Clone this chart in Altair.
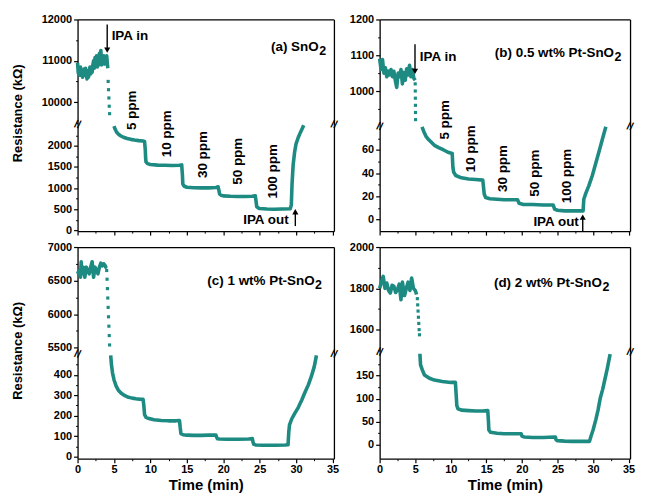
import altair as alt
import pandas as pd

TEAL = "#1e8b83"
FONT = "Liberation Sans"
X_DOMAIN = [0, 35.2]
X_MAJOR = [0, 5, 10, 15, 20, 25, 30, 35]
X_MINOR = [2.5, 7.5, 12.5, 17.5, 22.5, 27.5, 32.5]

# ---------------- (a) SnO2 ----------------
a_base_t = [0.0, 0.1, 0.2, 0.3, 0.4, 0.5, 0.6, 0.7, 0.8, 0.9, 1.0, 1.1, 1.2, 1.3, 1.4,
            1.5, 1.6, 1.7, 1.8, 1.9, 2.0, 2.1, 2.2, 2.3, 2.4, 2.5, 2.6, 2.7, 2.8, 2.9,
            3.0, 3.1, 3.2, 3.3, 3.4, 3.5, 3.6, 3.7, 3.8, 3.9, 4.0, 4.1, 4.15]
a_base_v = [10950, 10700, 10800, 10650, 10850, 10700, 10780, 10600, 10720, 10800,
            10650, 10820, 10700, 10560, 10760, 10600, 10720, 10850, 10680, 10820,
            10720, 10900, 11000, 10820, 11080, 10900, 11120, 10850, 11020, 10900,
            11180, 10950, 11250, 10900, 11060, 10950, 11120, 10920, 11000, 10960,
            11120, 10920, 10820]
a_drop_t = [4.2, 4.25, 4.3, 4.35, 4.4]
a_drop_v = [10500, 10300, 10100, 9900, 9720]
a_resp_t = [5.0, 5.15, 5.35, 5.6, 5.9, 6.3, 6.8, 7.3, 7.8, 8.4, 9.0, 9.2,
            9.3, 9.35, 9.4, 9.6, 10.0, 11.0, 12.0, 13.0, 14.0, 14.3, 14.4, 14.45,
            14.6, 15.0, 16.0, 17.0, 18.0, 19.0, 19.3, 19.4, 19.5, 19.7, 20.0, 21.0,
            22.0, 23.0, 24.0, 24.4, 24.5, 24.6, 24.8, 25.0, 26.0, 27.0, 28.0, 29.2,
            29.35, 29.45, 29.6, 29.8, 30.0, 30.3, 30.6, 30.9, 31.05]
a_resp_v = [2470, 2400, 2330, 2280, 2240, 2205, 2175, 2155, 2140, 2125, 2115, 2105,
            1900, 1700, 1620, 1580, 1560, 1545, 1540, 1535, 1540, 1550, 1300, 1100,
            1050, 1020, 1010, 1005, 1005, 1015, 1030, 950, 860, 830, 815, 805,
            800, 800, 805, 820, 700, 560, 530, 515, 505, 500, 505, 510,
            600, 1100, 1550, 1850, 2050, 2200, 2320, 2430, 2490]

# ---------------- (b) 0.5 wt% Pt-SnO2 ----------------
b_base_t = [0.0, 0.2, 0.4, 0.6, 0.8, 1.0, 1.2, 1.4, 1.6, 1.8, 2.0, 2.2, 2.4, 2.6,
            2.8, 3.0, 3.2, 3.4, 3.6, 3.8, 4.0, 4.2, 4.4, 4.6, 4.8, 5.0]
b_base_v = [1090, 1060, 1088, 1050, 1065, 1040, 1056, 1045, 1060, 1040, 1055, 1030,
            1010, 1050, 1040, 1060, 1020, 1052, 1030, 1062, 1045, 1072, 1040, 1060,
            1036, 1030]
b_drop_t = [5.0, 5.01, 5.02, 5.03, 5.04, 5.05]
b_drop_v = [1020, 1000, 980, 960, 940, 920]
b_resp_t = [5.96, 6.2, 6.5, 6.8, 7.2, 7.7, 8.3, 9.0, 9.6, 10.2, 10.3, 10.4, 10.7,
            11.5, 12.5, 13.5, 14.5, 14.7, 14.9, 15.5, 16.5, 17.5, 18.5, 19.4, 19.6,
            20.2, 21.5, 23.0, 24.4, 24.6, 25.0, 26.0, 27.0, 28.0, 28.6, 28.7, 29.0,
            29.4, 29.9, 30.4, 30.9, 31.3, 31.8]
b_resp_v = [80, 76, 72, 69.5, 67, 64, 62, 60, 58, 57, 45, 41, 38, 36, 35, 34.5, 34,
            22, 19, 18, 17.5, 17, 17, 17, 14, 13, 13, 12.5, 12.5, 9, 8, 7.5, 7.5, 7.5,
            7.5, 17.5, 23, 29, 38, 49, 60, 69, 80]

# ---------------- (c) 1 wt% Pt-SnO2 ----------------
c_base_t = [0.0, 0.2, 0.4, 0.5, 0.6, 0.8, 1.0, 1.2, 1.4, 1.6, 1.8, 2.0, 2.2, 2.4,
            2.6, 2.8, 3.0, 3.2, 3.4, 3.6, 3.8, 3.85, 3.95]
c_base_v = [6600, 6650, 6550, 6780, 6600, 6700, 6550, 6700, 6650, 6600, 6700, 6780,
            6550, 6700, 6650, 6600, 6700, 6760, 6720, 6750, 6720, 6700, 6720]
c_drop_t = [4.0, 4.05, 4.1, 4.15, 4.2, 4.25, 4.3, 4.35, 4.4]
c_drop_v = [6650, 6520, 6380, 6240, 6100, 5960, 5820, 5680, 5540]
c_resp_t = [4.55, 4.65, 4.8, 5.0, 5.3, 5.6, 6.0, 6.5, 7.0, 7.5, 8.0, 8.5, 9.0, 9.1,
            9.2, 9.4, 9.8, 10.5, 11.5, 12.5, 13.5, 14.0, 14.1, 14.2, 14.5, 15.0,
            16.0, 17.0, 18.0, 19.0, 19.1, 19.2, 19.5, 20.5, 22.0, 23.5, 24.0, 24.1,
            24.2, 24.5, 25.5, 27.0, 28.5, 28.9, 29.0, 29.1, 29.4, 29.8, 30.3, 30.8,
            31.2, 31.7, 32.1, 32.5, 32.8]
c_resp_v = [495, 450, 410, 376, 345, 325, 310, 298, 290, 286, 283, 281, 280, 250,
            205, 192, 186, 180, 177, 175, 175, 176, 140, 112, 107, 105, 104, 104,
            105, 106, 95, 88, 86, 85, 85, 86, 88, 70, 60, 57, 56, 56, 57, 58, 120,
            155, 184, 210, 240, 278, 312, 352, 392, 440, 495]

# ---------------- (d) 2 wt% Pt-SnO2 ----------------
d_base_t = [0.0, 0.25, 0.5, 0.75, 1.0, 1.25, 1.5, 1.75, 2.0, 2.25, 2.5, 2.75, 3.0,
            3.2, 3.5, 3.75, 4.0, 4.25, 4.5, 4.75, 5.0, 5.2]
d_base_v = [1800, 1830, 1858, 1800, 1826, 1790, 1777, 1815, 1810, 1780, 1794, 1820,
            1745, 1830, 1765, 1800, 1830, 1790, 1850, 1800, 1790, 1770]
d_drop_t = [5.3, 5.35, 5.4, 5.45, 5.5, 5.55, 5.6]
d_drop_v = [1750, 1720, 1690, 1660, 1630, 1600, 1575]
d_resp_t = [5.66, 5.75, 6.0, 6.3, 7.0, 7.7, 8.8, 10.0, 10.65, 10.75, 10.85, 11.0,
            11.5, 12.5, 13.5, 14.5, 15.2, 15.3, 15.35, 15.6, 16.5, 17.5, 18.5, 19.9,
            20.0, 20.3, 21.5, 23.0, 24.7, 24.8, 25.0, 26.0, 27.0, 28.0, 29.5, 29.7,
            30.0, 30.4, 30.7, 31.0, 31.35, 31.7, 32.0, 32.4]
d_resp_v = [197, 173, 162, 151, 144, 140, 137, 135, 135, 110, 85, 78, 75, 74, 73, 73,
            74, 50, 32, 27, 25, 24, 24, 24, 19, 17, 16, 16, 17, 11, 9, 8, 7.5, 7.5,
            7.5, 18, 32, 55, 75, 100, 120, 144, 165, 196]

# ---------------- annotations ----------------
ppm_labels = ["5 ppm", "10 ppm", "30 ppm", "50 ppm", "100 ppm"]
a_ppm_t = [7.45, 12.3, 17.2, 22.0, 26.9]
a_ppm_v = [2843, 2287, 1794, 1636, 1397]
b_ppm_t = [9.26, 12.9, 17.4, 21.9, 26.4]
b_ppm_v = [86, 61, 44, 40, 37.5]

# panel names: main part right-aligned at the junction, subscript "2" after it
panel_names = ["(a) SnO", "(b) 0.5 wt% Pt-SnO", "(c) 1 wt% Pt-SnO", "(d) 2 wt% Pt-SnO"]
panel_sub = "2"
panel_name_t = [33.1, 32.95, 32.55, 31.25]
panel_name_v = [11344, 1106, 6498, 1826]

# IPA in: text (t, v); arrow (t, top, head)
a_in_text = (4.68, 11600)
a_in_arrow = (4.07, 11880, 11260)
b_in_text = (5.65, 1094)
b_in_arrow = (4.97, 1131, 1055)
# IPA out: text right end (t, v); arrow (t, bottom, head)
a_out_text = (28.98, 255)
a_out_arrow = (29.9, 100, 440)
b_out_text = (28.0, -1.8)
b_out_arrow = (28.55, -10, 2)

AXBASE = dict(grid=False, domainColor="black", tickColor="black", labelColor="black",
              labelFont=FONT, labelFontWeight="bold", labelFontSize=11)


def xs():
    return alt.Scale(domain=X_DOMAIN, nice=False, zero=False)


def ys(dom):
    return alt.Scale(domain=dom, nice=False, zero=False)


def axis_layer(ydom, x_axis, y_axis):
    d = pd.DataFrame({"t": [X_DOMAIN[0]], "v": [ydom[0]]})
    return alt.Chart(d).mark_point(opacity=0).encode(
        x=alt.X("t:Q", scale=xs(), axis=x_axis),
        y=alt.Y("v:Q", scale=ys(ydom), axis=y_axis),
    )


def y_left(vals, title=None, title_y=0):
    kw = dict(AXBASE, orient="left", values=vals, tickSize=4, tickWidth=1.2,
              domainWidth=1.3, labelPadding=2, format="d")
    if title:
        kw.update(title=title, titleFont=FONT, titleFontSize=13, titleFontWeight="bold",
                  titleColor="black", titleAngle=270, titleX=-60, titleY=title_y,
                  titleAlign="center", titleBaseline="middle")
    else:
        kw["title"] = None
    return alt.Axis(**kw)


def y_minor(vals):
    return alt.Axis(orient="left", values=vals, tickSize=2, tickWidth=1, labels=False,
                    domain=False, grid=False, title=None, tickColor="black")


def y_right():
    return alt.Axis(orient="right", labels=False, ticks=False, domain=True, grid=False,
                    title=None, domainColor="black", domainWidth=1.3)


def x_top():
    return alt.Axis(orient="top", labels=False, ticks=False, domain=True, grid=False,
                    title=None, domainColor="black", domainWidth=1.3)


def x_bottom(show_labels):
    kw = dict(AXBASE, orient="bottom", values=X_MAJOR, tickSize=4, tickWidth=1.2,
              domainWidth=1.3, labels=show_labels, labelPadding=1, labelFlush=False,
              format="d")
    if show_labels:
        kw.update(title="Time (min)", titleFont=FONT, titleFontSize=15,
                  titleFontWeight="bold", titleColor="black", titlePadding=3)
    else:
        kw["title"] = None
    return alt.Axis(**kw)


def x_minor():
    return alt.Axis(orient="bottom", values=X_MINOR, tickSize=2, tickWidth=1,
                    labels=False, domain=False, grid=False, title=None, tickColor="black")


def line_layer(t, v, ydom):
    d = pd.DataFrame({"t": t, "v": v})
    return alt.Chart(d).mark_line(color=TEAL, strokeWidth=3.6, strokeJoin="round").encode(
        x=alt.X("t:Q", scale=xs(), axis=None),
        y=alt.Y("v:Q", scale=ys(ydom), axis=None),
    )


def dot_layer(t, v, ydom):
    d = pd.DataFrame({"t": t, "v": v})
    return alt.Chart(d).mark_square(color=TEAL, size=10, opacity=1).encode(
        x=alt.X("t:Q", scale=xs(), axis=None),
        y=alt.Y("v:Q", scale=ys(ydom), axis=None),
    )


def text_layer(t, v, labels, ydom, **kw):
    d = pd.DataFrame({"t": t, "v": v, "s": labels})
    return alt.Chart(d).mark_text(font=FONT, fontWeight="bold", color="black", **kw).encode(
        x=alt.X("t:Q", scale=xs(), axis=None),
        y=alt.Y("v:Q", scale=ys(ydom), axis=None),
        text="s:N",
    )


def arrow_layers(arrow, ydom, shape):
    t, v0, v1 = arrow
    d = pd.DataFrame({"t": [t], "v": [v0], "v2": [v1]})
    rule = alt.Chart(d).mark_rule(color="black", strokeWidth=1.4).encode(
        x=alt.X("t:Q", scale=xs(), axis=None),
        y=alt.Y("v:Q", scale=ys(ydom), axis=None),
        y2="v2:Q",
    )
    head = alt.Chart(d).mark_point(shape=shape, filled=True, size=38, color="black",
                                   opacity=1).encode(
        x=alt.X("t:Q", scale=xs(), axis=None),
        y=alt.Y("v2:Q", scale=ys(ydom), axis=None),
    )
    return [rule, head]


def panel(idx, base, drop, resp, up_dom, up_ticks, up_minor, lo_dom, lo_ticks, lo_minor,
          w, up_h, lo_h, ytitle=None, ytitle_y=0, show_x=False, ppm=None,
          ipa_in=None, ipa_out=None):
    up_layers = [
        axis_layer(up_dom, x_top(), y_left(up_ticks, ytitle, ytitle_y)),
        axis_layer(up_dom, None, y_minor(up_minor)),
        axis_layer(up_dom, None, y_right()),
        line_layer(base[0], base[1], up_dom),
        dot_layer(drop[0], drop[1], up_dom),
        text_layer([panel_name_t[idx]], [panel_name_v[idx]], [panel_names[idx]], up_dom,
                   fontSize=13.5, align="right", baseline="middle"),
        text_layer([panel_name_t[idx]], [panel_name_v[idx]], [panel_sub], up_dom,
                   fontSize=12.5, align="left", baseline="middle", dy=4, dx=0.5),
    ]
    if ipa_in:
        (tt, tv), arr = ipa_in
        up_layers.append(text_layer([tt], [tv], ["IPA in"], up_dom, fontSize=13.5,
                                    align="left", baseline="middle"))
        up_layers += arrow_layers(arr, up_dom, "triangle-down")
    upper = alt.layer(*up_layers).resolve_axis(x="independent", y="independent").properties(
        width=w, height=up_h)

    brk_t = [X_DOMAIN[0], X_DOMAIN[1]]
    brk_v = [lo_dom[1], lo_dom[1]]
    lo_layers = [
        axis_layer(lo_dom, x_bottom(show_x), y_left(lo_ticks)),
        axis_layer(lo_dom, x_minor(), y_minor(lo_minor)),
        axis_layer(lo_dom, None, y_right()),
        line_layer(resp[0], resp[1], lo_dom),
        text_layer(brk_t, brk_v, ["//", "//"], lo_dom, fontSize=11, align="center",
                   baseline="middle", angle=15),
    ]
    if ppm:
        lo_layers.append(text_layer(ppm[0], ppm[1], ppm_labels, lo_dom, fontSize=13.5,
                                    align="center", baseline="middle", angle=270))
    if ipa_out:
        (tt, tv), arr = ipa_out
        lo_layers.append(text_layer([tt], [tv], ["IPA out"], lo_dom, fontSize=13.5,
                                    align="right", baseline="middle"))
        lo_layers += arrow_layers(arr, lo_dom, "triangle-up")
    lower = alt.layer(*lo_layers).resolve_axis(x="independent", y="independent").properties(
        width=w, height=lo_h)
    return alt.vconcat(upper, lower, spacing=0, bounds="flush")


pa = panel(0, (a_base_t, a_base_v), (a_drop_t, a_drop_v), (a_resp_t, a_resp_v),
           [9450, 12000], [10000, 11000, 12000], [9500, 10500, 11500],
           [-20, 2500], [0, 500, 1000, 1500, 2000], [250, 750, 1250, 1750, 2250],
           258, 106, 107, ytitle="Resistance (k\u03a9)", ytitle_y=94,
           ppm=(a_ppm_t, a_ppm_v), ipa_in=(a_in_text, a_in_arrow),
           ipa_out=(a_out_text, a_out_arrow))
pb = panel(1, (b_base_t, b_base_v), (b_drop_t, b_drop_v), (b_resp_t, b_resp_v),
           [900, 1200], [1000, 1100, 1200], [950, 1050, 1150],
           [-10, 80], [0, 20, 40, 60], [10, 30, 50, 70],
           252, 108, 105, ppm=(b_ppm_t, b_ppm_v), ipa_in=(b_in_text, b_in_arrow),
           ipa_out=(b_out_text, b_out_arrow))
pc = panel(2, (c_base_t, c_base_v), (c_drop_t, c_drop_v), (c_resp_t, c_resp_v),
           [5400, 7000], [5500, 6000, 6500, 7000], [5750, 6250, 6750],
           [-10, 500], [0, 100, 200, 300, 400], [50, 150, 250, 350, 450],
           258, 108, 105, ytitle="Resistance (k\u03a9)", ytitle_y=104, show_x=True)
pd_ = panel(3, (d_base_t, d_base_v), (d_drop_t, d_drop_v), (d_resp_t, d_resp_v),
            [1490, 2000], [1600, 1800, 2000], [1500, 1700, 1900],
            [-30, 200], [0, 50, 100, 150], [25, 75, 125, 175],
            252, 106, 107, show_x=True)

row1 = alt.hconcat(pa, pb, spacing=10)
row2 = alt.hconcat(pc, pd_, spacing=10)
chart = alt.vconcat(row1, row2, spacing=5).properties(
    padding={"left": 4, "top": 4, "right": 2, "bottom": 2},
    background="white",
).configure_view(stroke=None)

chart.save("out.html", embed_options={"renderer": "svg", "actions": False})
